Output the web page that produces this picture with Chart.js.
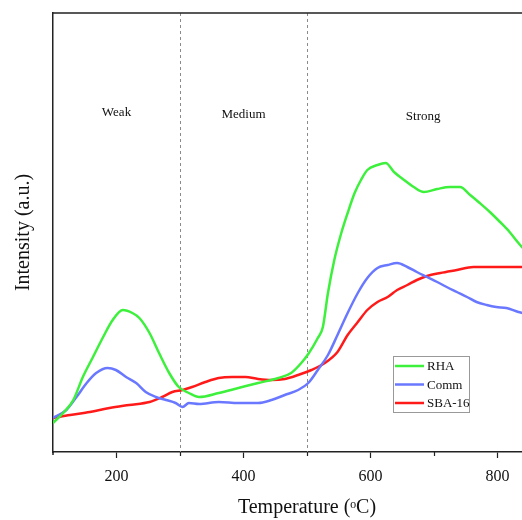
<!DOCTYPE html>
<html lang="en">
<head>
  <meta charset="UTF-8">
  <title>TPD profiles</title>
  <script src="https://cdn.jsdelivr.net/npm/chart.js"></script>
  <style>
    body { margin: 0; overflow: hidden; background: #fff; }
    .wrap { width: 522px; height: 520px; overflow: hidden; }
  </style>
</head>
<body>
  <div class="wrap">
    <canvas id="tpdChart" width="570" height="520"></canvas>
  </div>

  <script>
    // readings taken from the figure (temperature in degC, intensity in a.u.)
    const rhaTemp = [100,116,132,147,163,179,194,210,225,236,252,267,283,298,314,330,361,392,423,455,475,491,502,517,525,533,543,554,564,575,585,595,611,624,637,653,668,684,705,725,741,757,772,788,804,819,833,840];
    const rhaIntensity = [29,39,52,75,95,115,132,142,139,134,119,99,79,65,59,55,59,64,69,74,79,89,98,114,125,159,192,219,239,259,272,282,287,289,280,272,265,260,263,265,265,257,249,240,230,220,209,204];

    const commTemp = [100,121,137,153,168,186,199,215,231,246,262,278,293,304,314,330,361,392,423,444,465,486,502,517,533,548,564,580,595,611,627,642,658,673,689,705,720,736,752,767,783,798,814,833,840];
    const commIntensity = [34,42,55,69,79,84,82,75,69,60,55,52,49,45,49,48,50,49,49,52,57,62,69,82,97,117,139,159,174,184,187,189,185,180,175,170,165,160,155,150,147,145,144,140,139];

    const sbaTemp = [100,127,158,189,220,252,272,288,304,319,340,361,382,403,423,444,465,486,507,528,548,564,580,595,611,627,642,658,673,689,710,736,762,788,814,833,840];
    const sbaIntensity = [34,37,40,44,47,50,55,60,62,65,70,74,75,75,73,72,73,77,82,89,100,117,130,142,150,155,162,167,172,176,179,182,185,185,185,185,185];

    const seriesNames = ['RHA', 'Comm', 'SBA-16'];
    const seriesColors = ['#3cf03c', '#6a78ff', '#ff1a1a'];

    const regionNames = ['Weak', 'Medium', 'Strong'];
    const regionTemp = [200, 400, 683];
    const regionLevel = [339, 337, 335];
    const boundaryTemp = [300, 500];

    const labeledTicks = [200, 400, 600, 800];
    const minorTicks = [300, 500, 700];

    const serif = "'Liberation Serif', 'Times New Roman', serif";

    function toPoints(xs, ys) {
      return xs.map((x, i) => ({ x: x, y: ys[i] }));
    }

    // dashed zone boundaries, zone names, minor ticks, frame and legend
    const decorations = {
      id: 'decorations',
      beforeDatasetsDraw(chart) {
        const { ctx, chartArea, scales } = chart;
        ctx.save();
        ctx.strokeStyle = '#8a8a8a';
        ctx.lineWidth = 1;
        ctx.setLineDash([3, 3]);
        boundaryTemp.forEach(t => {
          const px = Math.round(scales.x.getPixelForValue(t)) + 0.5;
          ctx.beginPath();
          ctx.moveTo(px, chartArea.top);
          ctx.lineTo(px, chartArea.bottom);
          ctx.stroke();
        });
        ctx.setLineDash([]);
        ctx.fillStyle = '#111';
        ctx.font = '13px ' + serif;
        ctx.textAlign = 'center';
        ctx.textBaseline = 'middle';
        regionNames.forEach((name, i) => {
          ctx.fillText(name, scales.x.getPixelForValue(regionTemp[i]), scales.y.getPixelForValue(regionLevel[i]));
        });
        ctx.restore();
      },
      afterDraw(chart) {
        const { ctx, chartArea, scales } = chart;
        ctx.save();
        // short minor ticks
        ctx.strokeStyle = '#222';
        ctx.lineWidth = 1.2;
        minorTicks.forEach(t => {
          const px = Math.round(scales.x.getPixelForValue(t)) + 0.5;
          ctx.beginPath();
          ctx.moveTo(px, chartArea.bottom);
          ctx.lineTo(px, chartArea.bottom + 4);
          ctx.stroke();
        });
        // y axis runs a little below the x axis
        ctx.lineWidth = 1.5;
        ctx.beginPath();
        ctx.moveTo(chartArea.left, chartArea.bottom);
        ctx.lineTo(chartArea.left, chartArea.bottom + 3);
        ctx.stroke();
        // top and right frame
        ctx.beginPath();
        ctx.moveTo(chartArea.left, chartArea.top);
        ctx.lineTo(chartArea.right, chartArea.top);
        ctx.lineTo(chartArea.right, chartArea.bottom);
        ctx.stroke();

        // legend box
        const bx = 393, by = 356, bw = 76, bh = 56;
        ctx.fillStyle = '#fff';
        ctx.fillRect(bx, by, bw, bh);
        ctx.strokeStyle = '#999';
        ctx.lineWidth = 1;
        ctx.strokeRect(bx + 0.5, by + 0.5, bw, bh);
        ctx.font = '13px ' + serif;
        ctx.textAlign = 'left';
        ctx.textBaseline = 'middle';
        chart.data.datasets.forEach((ds, i) => {
          const ly = by + 10 + i * 18.5;
          ctx.strokeStyle = ds.borderColor;
          ctx.lineWidth = 2.5;
          ctx.beginPath();
          ctx.moveTo(bx + 2, ly);
          ctx.lineTo(bx + 31, ly);
          ctx.stroke();
          ctx.fillStyle = '#111';
          ctx.fillText(ds.label, bx + 34, ly + 1);
        });
        ctx.restore();
      }
    };

    const ctx = document.getElementById('tpdChart').getContext('2d');
    const tpdChart = new Chart(ctx, {
      type: 'line',
      data: {
        datasets: [
          { label: seriesNames[0], data: toPoints(rhaTemp, rhaIntensity), borderColor: seriesColors[0] },
          { label: seriesNames[1], data: toPoints(commTemp, commIntensity), borderColor: seriesColors[1] },
          { label: seriesNames[2], data: toPoints(sbaTemp, sbaIntensity), borderColor: seriesColors[2] }
        ]
      },
      options: {
        responsive: false,
        animation: false,
        devicePixelRatio: 1,
        layout: { padding: { top: 13, right: 5, left: 0, bottom: 0 } },
        elements: {
          line: { borderWidth: 2.5, cubicInterpolationMode: 'monotone', fill: false },
          point: { radius: 0 }
        },
        plugins: {
          legend: { display: false },
          tooltip: { enabled: false }
        },
        scales: {
          x: {
            type: 'linear',
            min: 100,
            max: 900,
            afterFit: scale => { scale.height = 68; },
            border: { display: true, color: '#222', width: 1.5 },
            grid: {
              display: true,
              drawOnChartArea: false,
              drawTicks: true,
              tickLength: 6,
              tickColor: c => (c.tick && labeledTicks.includes(c.tick.value)) ? '#222' : 'rgba(0,0,0,0)',
              tickWidth: 1.2
            },
            ticks: {
              stepSize: 100,
              padding: 9,
              color: '#111',
              font: { family: serif, size: 16 },
              maxRotation: 0,
              callback: v => labeledTicks.includes(v) ? String(v) : ''
            },
            title: {
              display: true,
              text: 'Temperature (\u1D52C)',
              color: '#111',
              font: { family: serif, size: 20 },
              padding: { top: 0, bottom: 0 }
            }
          },
          y: {
            min: 0,
            max: 439,
            afterFit: scale => { scale.width = 53; },
            border: { display: true, color: '#222', width: 1.5 },
            grid: { display: false },
            ticks: { display: false },
            title: {
              display: true,
              text: 'Intensity (a.u.)',
              color: '#111',
              font: { family: serif, size: 20 },
              padding: { top: 12, bottom: 0 }
            }
          }
        }
      },
      plugins: [decorations]
    });
  </script>
</body>
</html>
